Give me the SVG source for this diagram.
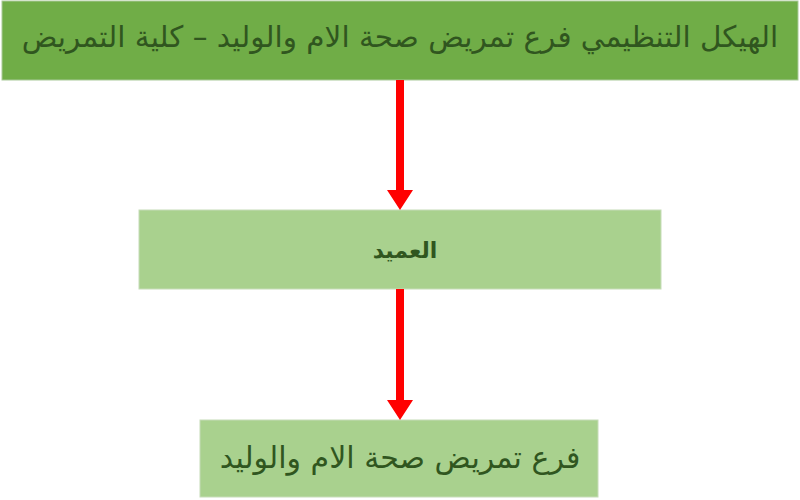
<svg xmlns="http://www.w3.org/2000/svg" width="800" height="500" viewBox="0 0 800 500">
<style>
.t{font-family:"DejaVu Sans","Noto Sans",sans-serif;fill:#30561f;text-anchor:middle;direction:rtl}
.top{fill:#70ad47;stroke:#a9c99a;stroke-width:1}
.box{fill:#a9d18e;stroke:#c6dcb8;stroke-width:1}
.arr{fill:#ff0000}
</style>
<rect width="800" height="500" fill="#ffffff"/>
<g id="title">
<rect class="top" x="2" y="1" width="796" height="79"/>
<text class="t" x="400" y="47" font-size="29.5">الهيكل التنظيمي فرع تمريض صحة الام والوليد – كلية التمريض</text>
</g>
<g id="dean">
<rect class="box" x="139" y="210" width="522" height="79"/>
<text class="t" x="405" y="258" font-size="22" font-weight="bold">العميد</text>
</g>
<g id="branch">
<rect class="box" x="200" y="420" width="398" height="77"/>
<text class="t" x="400" y="468" font-size="30">فرع تمريض صحة الام والوليد</text>
</g>
<g id="connectors">
<path class="arr" d="M396 80 H404 V190 H413 L400 210 L387 190 H396 Z"/>
<path class="arr" d="M396 289 H404 V400 H413 L400 420 L387 400 H396 Z"/>
</g>
</svg>
